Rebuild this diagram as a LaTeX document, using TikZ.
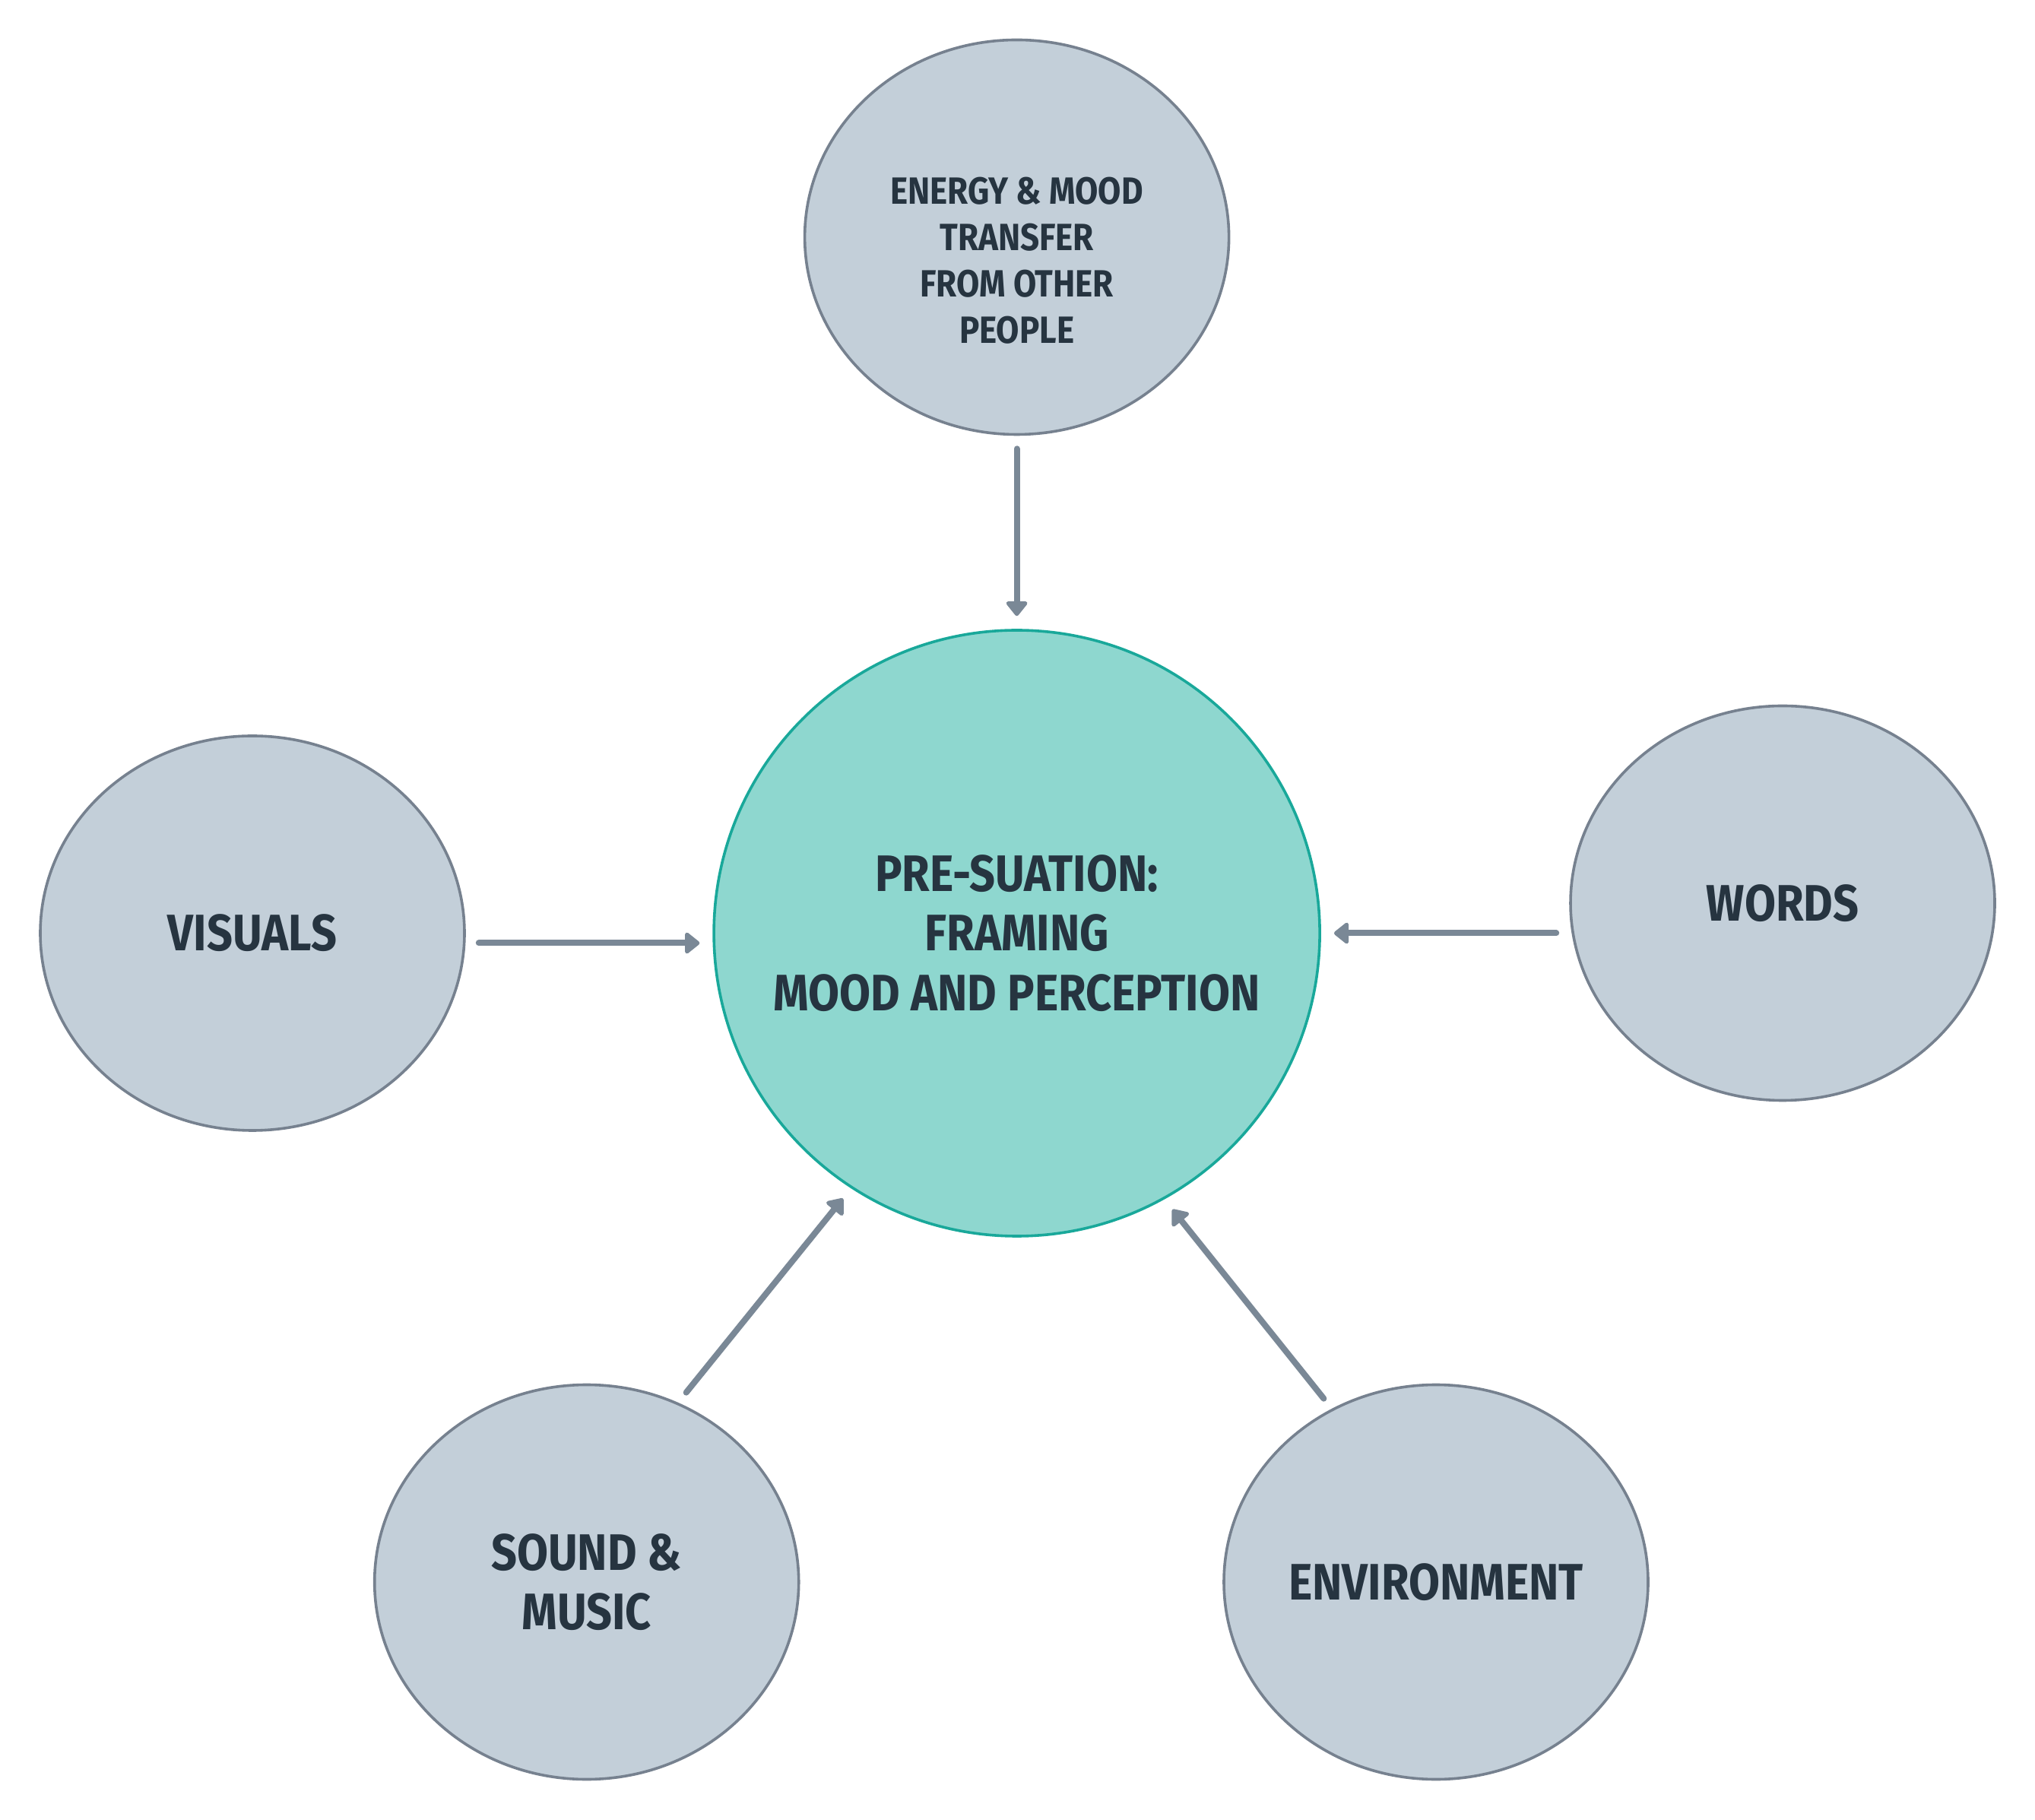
\documentclass[tikz,border=0pt]{standalone}
\usepackage{fontspec}
\setmainfont{Fira Sans}[FakeStretch=0.88]
\usepackage{xcolor}
\usepackage{tikz}
\usetikzlibrary{arrows.meta, positioning, shapes.geometric}

\definecolor{inkdark}{HTML}{263440}
\definecolor{sourcefill}{HTML}{C3CFD9}
\definecolor{sourcedraw}{HTML}{76818F}
\definecolor{corefill}{HTML}{8ED7CF}
\definecolor{coredraw}{HTML}{19A89A}
\definecolor{arrowgray}{HTML}{7A8896}

\begin{document}
\begin{tikzpicture}[
    bigfont/.style={font=\bfseries\fontsize{19.2}{22.3}\selectfont},
    smallfont/.style={font=\bfseries\fontsize{14.2}{17.4}\selectfont},
    source/.style={ellipse, draw=sourcedraw, fill=sourcefill, line width=0.036cm, inner sep=0pt,
                   minimum width=5.58cm, minimum height=5.19cm, text=inkdark, align=center},
    core/.style={circle, draw=coredraw, fill=corefill, line width=0.036cm, inner sep=0pt,
                 minimum size=7.97cm, text=inkdark, align=center, bigfont},
    arrow/.style={-{Triangle[round, length=0.21cm, width=0.32cm]}, line width=0.08cm,
                  line cap=round, arrowgray, shorten <=0.17cm, shorten >=0.17cm}
]
    \useasboundingbox (0,0) rectangle (26.77,23.93);

    % The framing circle in the middle.
    \node[core] (core) at (13.376, 11.655) {PRE-SUATION:\\FRAMING\\MOOD AND PERCEPTION};

    % Five influences around it.
    \node[source, label={[smallfont, text=inkdark, align=center, yshift=-0.31cm]center:ENERGY \& MOOD\\TRANSFER\\FROM OTHER\\PEOPLE}] (energy) at (13.376, 20.81) {};
    \node[source, bigfont] (visuals) at (3.32, 11.655) {VISUALS};
    \node[source, bigfont] (words) at (23.45, 12.05) {WORDS};
    \node[source, bigfont] (sound) at (7.717, 3.12) {SOUND \&\\MUSIC};
    \node[source, bigfont] (environment) at (18.89, 3.12) {ENVIRONMENT};

    % Every influence points into the circle.
    \draw[arrow] (energy.south) -- (core.north);
    \draw[arrow] ([yshift=-0.13cm]visuals.east) -- ([yshift=-0.13cm]core.west);
    \draw[arrow] (words.west |- core.east) -- (core.east);
    \draw[arrow] (sound.63) -- (core.237);
    \draw[arrow] (environment.121.5) -- (core.299);

\end{tikzpicture}
\end{document}
